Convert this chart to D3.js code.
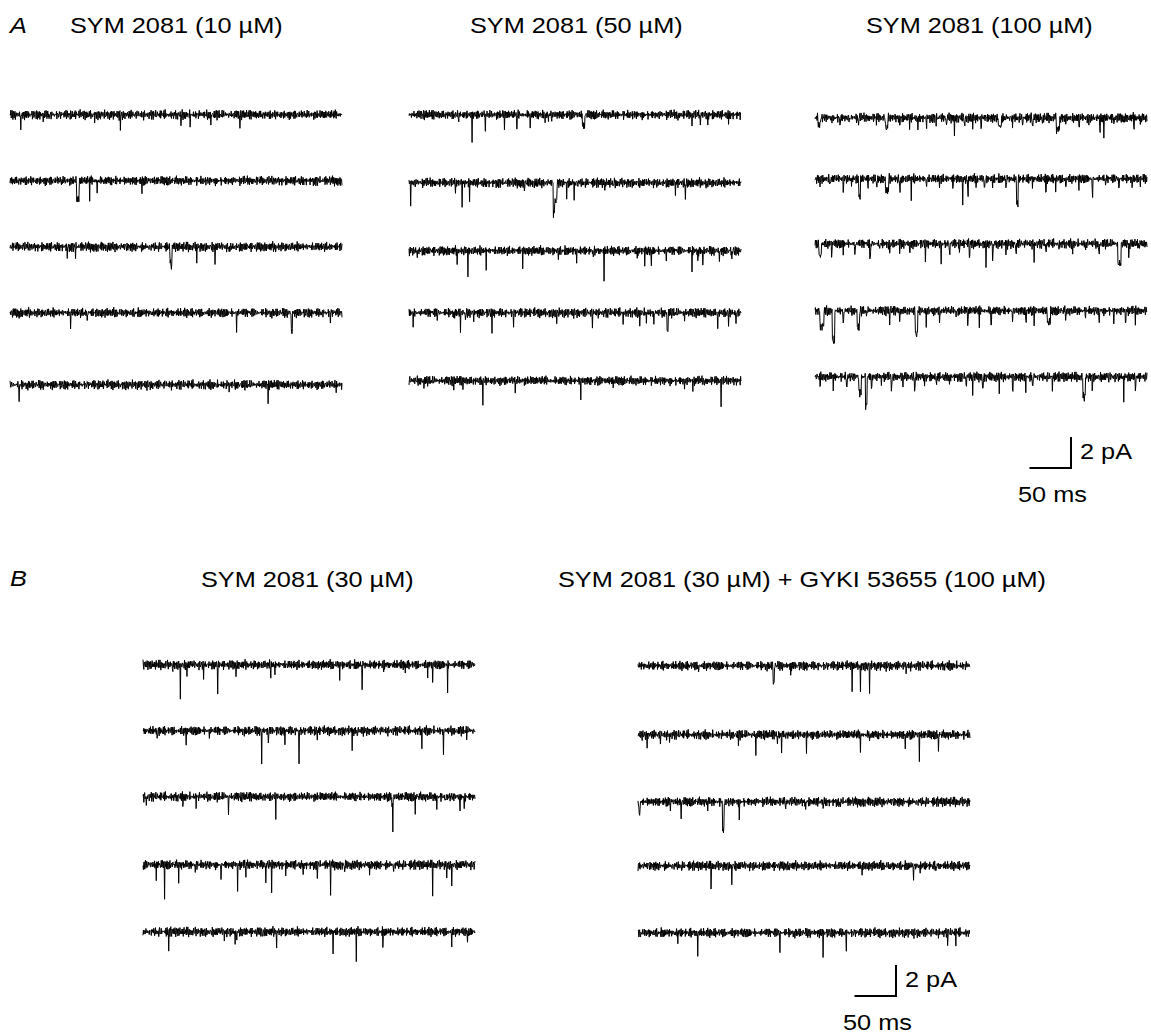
<!DOCTYPE html>
<html>
<head>
<meta charset="utf-8">
<script src="https://cdn.jsdelivr.net/npm/d3@7"></script>
<style>
  body { margin: 0; background: #fff; }
  svg { display: block; }
  text { font-family: "Liberation Sans", Arial, Helvetica, sans-serif; fill: #000; }
</style>
</head>
<body>
<div id="app"></div>
<script>
/* globals d3 */
// DATA
const titlesA = ['SYM 2081 (10 µM)', 'SYM 2081 (50 µM)', 'SYM 2081 (100 µM)'];
const titlesB = ['SYM 2081 (30 µM)', 'SYM 2081 (30 µM) + GYKI 53655 (100 µM)'];
const panelLetters = ['A', 'B'];
const scaleBarLabels = ['2 pA', '50 ms'];
const SWEEP_MS = 400;     // each sweep
const BAR_PA = 2;
const BAR_MS = 50;

// openings, one list per sweep: [start ms, amplitude pA, duration ms]
const eventsA10 = [
  [[13,1.08],[40,0.43],[47,0.3],[102,0.25],[133,0.86],[206,0.92],[217,0.65],[242,0.65],[277,0.92]],
  [[62,0.26],[80.5,1.25,3],[96,1.1],[105,0.86],[159,0.75]],
  [[69,0.86],[79,0.65],[193,1.16,2.5],[225,1.18],[247,1.22],[264,0.5],[320,0.4]],
  [[11,0.5],[73,1.07],[93,0.65],[273,1.18],[339,1.22,1.2],[386,0.5]],
  [[11,1.33],[264,0.43],[311,0.97],[393,0.47]]
];
const eventsA50 = [
  [[60,0.65],[76,1.46],[92,1.25],[115,0.86],[130,1.18],[146,0.86],[164,0.5],[168,0.5],[172,0.6],[209,0.7,3],[212,0.35],[324,0.5],[341,0.65],[351,0.86],[360,0.8],[385,0.5]],
  [[2,1.6],[56,0.65],[64,1.3],[73,0.97],[139,0.6],[174,2.0,1.5],[175.5,1.2,3],[190,0.97],[199,1.07],[236,0.7],[246,0.5],[321,0.75],[333,1.33],[358,0.43]],
  [[10,0.5],[58,1.1],[71,1.4],[93,1.07],[137,0.9],[180,0.5],[202,0.7],[222,0.65],[235,1.83],[275,0.5],[284,0.86],[292,1.18],[310,0.65],[341,1.25],[348,0.75],[354,1.18],[374,0.8],[389,0.75]],
  [[5,0.86],[34,0.5],[54,0.43],[62,1.07],[68,0.75],[78,0.5],[100,1.03],[126,0.86],[178,0.6],[221,0.9],[258,0.65],[278,1.03],[286,0.65],[295,1.03],[311,1.22,1.5],[332,0.5],[372,1.18],[385,0.8],[394,0.86]],
  [[18,0.5],[54,0.5],[65,0.5],[89,1.4],[128,0.75],[207,1.07],[224,0.5],[246,0.43],[332,0.65],[342,0.65],[356,0.5],[376,1.5]]
];
const eventsA100 = [
  [[4,0.43,3],[20,0.32],[30,0.43,1],[42,0.32],[52,0.39,1],[74,0.32],[85,0.65,3],[102,0.39,1],[114,0.54],[124,1.07],[134,0.43,1],[146,0.43],[158,0.54,1],[168,0.86],[180,0.54,1],[190,0.65],[200,0.54,1],[221,0.54,4],[238,0.65],[250,0.43,1],[262,0.65,1],[274,0.54],[291,0.75,4],[302,0.43],[318,0.54,1],[330,0.43],[343,0.65,1],[348,1.18],[360,0.39,1],[372,0.43],[384,0.43,1],[392,0.39]],
  [[6,0.65],[18,0.43,1],[34,0.54,1],[44,0.54],[53,1.18,2],[64,0.65],[74,0.54,1],[85,0.75,4],[102,0.75,1],[116,1.18],[134,0.43,1],[150,0.47],[166,0.43,1],[178,1.94],[184,0.97,1],[194,0.75],[204,0.65,1],[214,0.65],[230,0.54,1],[243,1.6,2],[262,0.43],[278,0.65,1],[290,0.86],[302,0.54,1],[318,0.65],[334,0.97,1],[350,0.65],[366,0.54,1],[382,0.65],[392,0.43]],
  [[5,0.75,3],[20,0.65,1],[34,0.54],[48,0.65,1],[66,0.75,1.5],[78,0.54],[90,0.43,1],[102,0.43],[114,0.54,1],[133,1.18],[152,1.33],[162,0.65,1],[174,0.65],[186,0.75,1],[206,1.55],[214,0.86,1],[230,0.54],[242,0.65,1],[264,1.18],[278,0.54,1],[294,0.43],[310,0.43,1],[326,0.43],[342,0.65,1],[365,1.3,4],[378,0.65,1],[390,0.54]],
  [[6,0.97,5],[21,1.94,3],[34,0.86,1],[51,1.07,3],[62,0.65],[90,1.07],[102,0.54,1],[121,1.5,3],[134,0.97],[150,0.54,1],[170,0.54],[184,0.75,1],[198,1.07],[212,0.97,1],[238,0.97],[254,0.65,1],[264,0.75],[280,0.75,4],[302,0.43,1],[326,0.43],[342,0.65,1],[360,1.07],[374,0.75,1],[386,0.86]],
  [[6,0.54,1],[22,0.65],[38,0.75,1],[53,0.97,3],[61,1.83,2],[68,0.75,1],[80,0.54],[92,0.86,1],[106,0.65],[120,0.86,1],[132,0.65],[146,0.54,1],[162,0.43],[182,0.54,1],[190,1.3],[202,0.86,1],[222,0.86],[238,0.75,1],[254,0.97],[262,0.65,1],[286,0.97],[323,1.3,3],[334,0.65,1],[354,0.43],[372,1.7],[386,0.75,1]]
];
const eventsB30 = [
  [[36,0.5],[45,2.1],[53,0.86],[73,0.75],[90,2.04],[112,0.86],[154,0.97],[159,0.65],[237,0.8],[264,1.76],[290,0.43],[316,0.43],[343,0.54],[349,1.07],[367,1.76]],
  [[17,0.8],[52,0.9],[80,0.54],[143,2.15],[151,0.97],[171,0.86],[188,2.15],[210,0.65],[252,1.03],[258,0.54],[336,0.86],[362,1.83],[390,0.43]],
  [[4,0.65],[48,0.54],[64,0.54],[103,1.18],[160,1.18],[300,0.6,1],[301,2.26],[328,1.18],[354,0.75],[364,0.54],[382,1.07],[387,0.75]],
  [[16,0.97],[26,1.94],[43,0.97],[63,0.54],[94,1.18],[114,1.72],[124,0.75],[148,1.18],[155,1.72],[172,0.43],[193,0.86],[210,0.86],[226,1.72],[243,0.65],[273,0.75],[302,0.54],[349,1.68],[366,0.97],[372,1.46]],
  [[31,1.25],[98,0.54],[111,0.86],[113,0.75],[144,0.43],[161,1.07],[229,1.46],[257,1.72],[289,0.97],[372,0.97],[391,0.9]]
];
const eventsBGyki = [
  [[73,0.43],[163,1.18,1.5],[184,0.54],[258,1.33],[268,1.72],[279,1.76],[323,0.43]],
  [[11,1.0],[27,0.54],[38,0.47],[121,0.54],[142,1.4],[168,0.75],[173,0.97],[203,0.97],[268,1.07],[279,0.43],[322,0.97],[339,1.6],[362,1.18]],
  [[1,0.65,2],[39,0.43],[52,1.33],[84,0.43],[102,1.83,2],[122,1.33],[178,0.65],[202,0.65],[223,0.54],[243,0.43]],
  [[53,0.43],[88,1.5],[113,1.3],[182,0.43],[270,0.58],[303,0.39],[332,1.18],[340,0.54],[359,0.43]],
  [[3,0.32],[48,0.65],[72,1.6],[171,1.18],[223,1.4],[251,1.18],[373,0.8],[383,0.8]]
];

const noiseFast = [0.08,-0.05,0.12,-0.10,0.03,0.15,-0.02,-0.13,0.06,0.10,-0.08,0.01,0.13,-0.11,-0.04,0.09,0.02,-0.14,0.07,0.11,-0.06,0.04,-0.09,0.14,-0.01,-0.12,0.05,0.10,-0.07,0.00,0.12,-0.10,0.06,-0.03,0.09,-0.13,0.02,0.11,-0.05,0.07,-0.08];
const noiseSlow = [-0.06,0.04,0.09,-0.03,-0.08,0.05,0.02,-0.07,0.10,-0.01,-0.05,0.07,0.03,-0.09,0.06,0.01,-0.04,0.08,-0.06,-0.02,0.09,-0.08,0.04,0.00,-0.07,0.06,0.03,-0.10,0.05,0.08,-0.03,-0.06,0.07,-0.01,0.04,-0.09,0.02,0.06,-0.05,0.10,-0.04,-0.07,0.03,0.05,-0.02,0.08,-0.08,0.01,0.06,-0.03,-0.06,0.09,-0.01,0.04,-0.07,0.02,0.07,-0.05,0.03];

// LAYOUT
const W = 1151, H = 1035;
const DT = 0.5;            // sample interval, ms
const NOISE_GAIN = 1.5;
const TRACE_W = 332;
const PX_PER_PA = 15.5;
const FONT = 22, STRETCH = 1.15;

const panels = [
  {events: eventsA10,   x: 10,  rows: [115, 181, 247, 313, 385]},
  {events: eventsA50,   x: 409, rows: [115, 183, 251, 313, 381]},
  {events: eventsA100,  x: 815, rows: [118, 179, 244, 311, 377]},
  {events: eventsB30,   x: 143, rows: [665, 731, 797, 865, 932]},
  {events: eventsBGyki, x: 638, rows: [666, 735, 802, 866, 933]}
];

const x = d3.scaleLinear().domain([0, SWEEP_MS]).range([0, TRACE_W]);
const y = d3.scaleLinear().domain([0, -BAR_PA]).range([0, BAR_PA * PX_PER_PA]);

function sweep(events, offset) {
  const n = Math.round(SWEEP_MS / DT);
  const pts = [];
  for (let i = 0; i <= n; i++) {
    const t = i * DT;
    let v = NOISE_GAIN * (noiseFast[(i + offset) % noiseFast.length] +
                          noiseSlow[(i + 3 * offset) % noiseSlow.length]);
    for (const [t0, amp, dur] of events) {
      if (t >= t0 && t < t0 + Math.max(dur || DT, DT)) v -= amp;
    }
    pts.push([t, v]);
  }
  return pts;
}

const line = d3.line().x(d => x(d[0])).y(d => y(d[1]));

const $svg = d3.select('#app')
  .append('svg')
  .attr('width', W)
  .attr('height', H);

function label($p, str, px, py, italic) {
  $p.append('text')
    .attr('transform', `translate(${px},${py}) scale(${STRETCH},1)`)
    .attr('font-size', FONT)
    .attr('font-style', italic ? 'italic' : null)
    .text(str);
}

// traces
panels.forEach((p, pi) => {
  p.events.forEach((ev, ri) => {
    $svg.append('path')
      .attr('transform', `translate(${p.x},${p.rows[ri]})`)
      .attr('d', line(sweep(ev, (pi * 5 + ri) * 137)))
      .attr('fill', 'none')
      .attr('stroke', '#000')
      .attr('stroke-width', 1)
      .attr('stroke-linejoin', 'bevel');
  });
});

// titles
label($svg, panelLetters[0], 10, 33, true);
label($svg, titlesA[0], 70, 33);
label($svg, titlesA[1], 470, 33);
label($svg, titlesA[2], 866, 33);
label($svg, panelLetters[1], 10, 586, true);
label($svg, titlesB[0], 201, 587);
label($svg, titlesB[1], 558, 587);

// scale bars
function scaleBar(cx, cy) {
  const $g = $svg.append('g').attr('transform', `translate(${cx},${cy})`);
  $g.append('path')
    .attr('d', `M${-x(BAR_MS)},0H0V${-y(-BAR_PA)}`)
    .attr('fill', 'none')
    .attr('stroke', '#000')
    .attr('stroke-width', 2);
  label($g, scaleBarLabels[0], 9, -9);
  label($g, scaleBarLabels[1], -53, 34);
}
scaleBar(1071, 468);
scaleBar(896, 996);
</script>
</body>
</html>
